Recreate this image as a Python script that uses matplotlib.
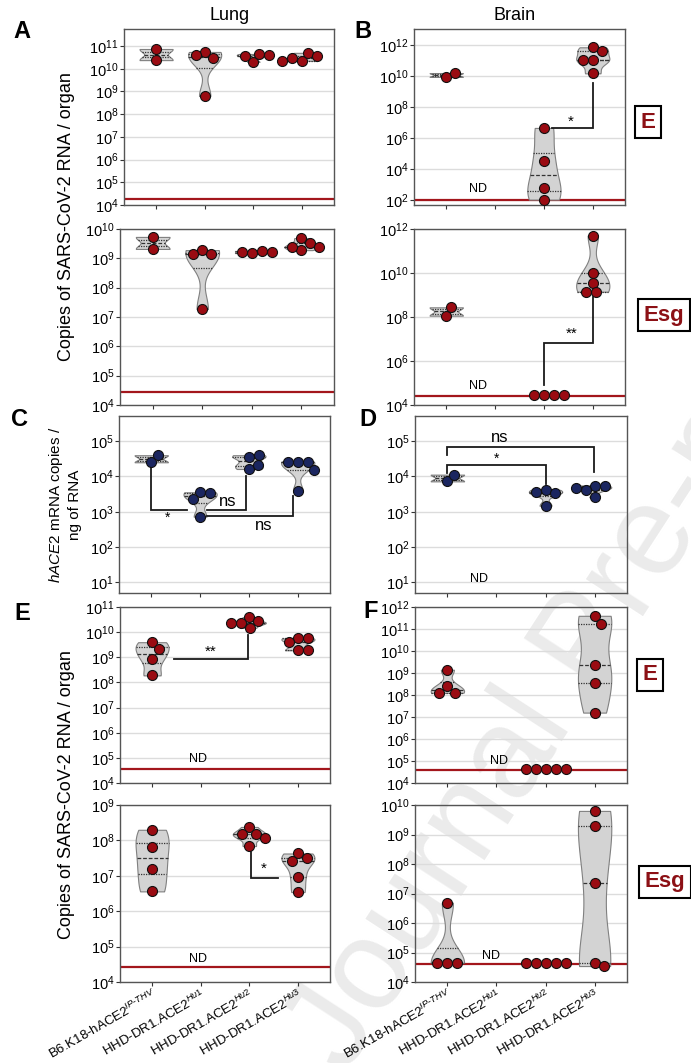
import numpy as np
import matplotlib
matplotlib.use('Agg')
import matplotlib.pyplot as plt

# ── Style ─────────────────────────────────────────────────────────────────────
plt.rcParams['font.family'] = ['Liberation Sans', 'DejaVu Sans']
plt.rcParams['mathtext.fontset'] = 'custom'
plt.rcParams['mathtext.rm'] = 'Liberation Sans'
plt.rcParams['mathtext.it'] = 'Liberation Sans:italic'
plt.rcParams['mathtext.bf'] = 'Liberation Sans:bold'

W, H = 691, 1063
RED = '#9a0b12'
NAVY = '#1b2660'
LOD_COL = '#a3161c'
LABEL_RED = '#8c1015'

# ── Data (log10 copies) ───────────────────────────────────────────────────────
strains = [r'B6.K18-hACE2$^{\mathit{IP\text{-}THV}}$',
           r'HHD-DR1.ACE2$^{\mathit{Hu1}}$',
           r'HHD-DR1.ACE2$^{\mathit{Hu2}}$',
           r'HHD-DR1.ACE2$^{\mathit{Hu3}}$']

# A: lung, E gene / Esg
lung_e   = [[10.87, 10.38], [10.74, 10.47, 10.60, 8.80],
            [10.30, 10.65, 10.56, 10.60], [10.35, 10.70, 10.47, 10.56, 10.35]]
lung_esg = [[9.73, 9.32], [9.28, 9.15, 9.15, 7.27],
            [9.18, 9.25, 9.20, 9.23], [9.69, 9.52, 9.28, 9.39, 9.39]]
# B: brain, E gene / Esg
brain_e   = [[9.94, 10.19], [], [6.65, 4.52, 2.77, 2.03],
             [11.85, 11.61, 11.01, 11.01, 10.17]]
brain_esg = [[8.06, 8.44], [], [4.45, 4.45, 4.45, 4.45],
             [11.70, 10.01, 9.56, 9.15, 9.15]]
# C / D: hACE2 mRNA copies per ng RNA
hace2_lung  = [[4.40, 4.60], [3.55, 3.53, 3.36, 2.86],
               [4.55, 4.60, 4.21, 4.33], [4.42, 4.41, 4.40, 4.19, 3.60]]
hace2_brain = [[3.86, 4.05], [], [3.62, 3.53, 3.55, 3.17],
               [3.72, 3.74, 3.62, 3.67, 3.41]]
# E: lung, second experiment
lung_e2   = [[9.60, 9.34, 8.95, 8.28], [], [10.60, 10.43, 10.35, 10.35, 10.17],
             [9.75, 9.75, 9.61, 9.28, 9.28]]
lung_esg2 = [[8.30, 7.80, 7.20, 6.56], [], [8.38, 8.19, 8.19, 8.07, 7.84],
             [7.63, 7.50, 7.42, 6.98, 6.54]]
# F: brain, second experiment
brain_e2   = [[9.15, 8.39, 8.10, 8.10], [], [4.63, 4.63, 4.63, 4.63, 4.63],
              [11.60, 11.24, 9.35, 8.55, 7.20]]
brain_esg2 = [[6.69, 4.65, 4.65, 4.65], [], [4.65, 4.65, 4.65, 4.65, 4.65],
              [9.80, 9.30, 7.37, 4.65, 4.54]]

# limit of detection (log10)
lod = {'A1': 4.26, 'A2': 4.44, 'B1': 2.03, 'B2': 4.42,
       'E1': 4.56, 'E2': 4.41, 'F1': 4.60, 'F2': 4.60}

XLIM = (0.34, 4.66)


def make_ax(l, t, r, b):
    return fig.add_axes([l / W, 1 - b / H, (r - l) / W, (b - t) / H])


def swarm(vals, sx, sy, d=9.5):
    placed, xs = [], []
    for v in vals:
        y = v * sy
        off = 0.0
        for k in range(0, 200):
            for cand in ([0.0] if k == 0 else [k * 1.0, -k * 1.0]):
                if all((cand - px) ** 2 + (y - py) ** 2 >= d ** 2 for px, py in placed):
                    off = cand
                    break
            else:
                continue
            break
        placed.append((off, y))
        xs.append(off / sx)
    return xs


def panel(rect, data, ylim, yticks, color, lod_val=None, xlabels=False):
    ax = make_ax(*rect)
    ax.set_facecolor('none')
    ax.set_xlim(*XLIM)
    ax.set_ylim(*ylim)
    ax.set_yticks(yticks)
    ax.set_yticklabels([f'$10^{{{t}}}$' for t in yticks], fontsize=10.5)
    ax.set_xticks([1, 2, 3, 4])
    if xlabels:
        ax.set_xticklabels(strains, rotation=30, ha='right', rotation_mode='anchor',
                           fontsize=9.5)
    else:
        ax.set_xticklabels([])
    ax.tick_params(direction='out', length=3, width=0.8, color='#333333', pad=1)
    for s in ax.spines.values():
        s.set_linewidth(1.0)
        s.set_color('#555555')
    for t in yticks:
        ax.axhline(t, color='#dcdcdc', lw=1.0, zorder=0)
    if lod_val is not None:
        ax.axhline(lod_val, color=LOD_COL, lw=1.6, zorder=1.5)

    wpx = (rect[2] - rect[0]) / (XLIM[1] - XLIM[0])
    hpx = (rect[3] - rect[1]) / (ylim[1] - ylim[0])

    # violins
    vdata, vpos = [], []
    for i, g in enumerate(data):
        if len(g) > 1 and np.ptp(g) > 0:
            vdata.append(np.array(g))
            vpos.append(i + 1)
    if vdata:
        vp = ax.violinplot(vdata, positions=vpos, widths=0.68, showextrema=False,
                           bw_method=0.5)
        for body, g, p in zip(vp['bodies'], vdata, vpos):
            body.set_facecolor('#d3d3d3')
            body.set_edgecolor('#808080')
            body.set_linewidth(0.8)
            body.set_alpha(1)
            body.set_zorder(2)
            v = body.get_paths()[0].vertices
            right = v[v[:, 0] >= p]
            order = np.argsort(right[:, 1])
            ry, rx = right[order, 1], right[order, 0]
            q1, med, q3 = np.percentile(g, [25, 50, 75])
            for yv, ls in ((med, (0, (3, 1.5))), (q1, (0, (1, 1))), (q3, (0, (1, 1)))):
                hw = np.interp(yv, ry, rx) - p
                ax.plot([p - hw, p + hw], [yv, yv], color='#333333', lw=0.9,
                        ls=ls, zorder=3)

    # points
    for i, g in enumerate(data):
        if not g:
            continue
        offs = swarm(g, wpx, hpx)
        ax.plot(np.array(offs) + i + 1, g, 'o', ms=7.2, mfc=color, mec='#111111',
                mew=0.8, zorder=4, clip_on=False)
    return ax


def bracket(ax, xs, ys):
    ax.plot(xs, ys, color='#1a1a1a', lw=1.3, zorder=3.5, solid_joinstyle='miter')


fig = plt.figure(figsize=(W / 100, H / 100), dpi=100)

# watermark
fig.text(345 / W, 1 - 1075 / H, 'Journal Pre-proof', rotation=57, fontsize=92,
         color='#ebebeb', ha='left', va='baseline', zorder=-1,
         rotation_mode='anchor')

# ── Row A / B ────────────────────────────────────────────────────────────────
axA1 = panel((124, 29, 334, 205), lung_e, (4, 11.75), list(range(4, 12)), RED, lod['A1'])
axA2 = panel((120, 229, 334, 405), lung_esg, (4, 10), list(range(4, 11)), RED, lod['A2'])

axB1 = panel((414, 29, 625, 205), brain_e, (1.68, 13.03), list(range(2, 13, 2)), RED, lod['B1'])
bracket(axB1, [3.16, 4.01, 4.01], [6.65, 6.65, 9.57])
axB1.text(3.54, 7.05, '*', ha='center', va='center', fontsize=11)
axB1.text(1.65, 2.7, 'ND', ha='center', va='center', fontsize=9)

axB2 = panel((414, 229, 625, 405), brain_esg, (4, 12), list(range(4, 13, 2)), RED, lod['B2'])
bracket(axB2, [3, 3, 4, 4], [4.91, 6.83, 6.83, 8.92])
axB2.text(3.56, 7.25, '**', ha='center', va='center', fontsize=11)
axB2.text(1.65, 4.85, 'ND', ha='center', va='center', fontsize=9)

# ── Row C / D ────────────────────────────────────────────────────────────────
axC = panel((119, 416, 330, 593), hace2_lung, (0.7, 5.71), list(range(1, 6)), NAVY)
bracket(axC, [1, 1, 1.73], [4.33, 3.06, 3.06])
axC.text(1.33, 2.82, '*', ha='center', va='center', fontsize=10)
bracket(axC, [2.15, 2.94, 2.94], [3.06, 3.06, 4.0])
axC.text(2.57, 3.3, 'ns', ha='center', va='center', fontsize=12)
bracket(axC, [2.15, 3.9, 3.9], [2.87, 2.87, 3.45])
axC.text(3.3, 2.62, 'ns', ha='center', va='center', fontsize=12)

axD = panel((415, 416, 627, 593), hace2_brain, (0.7, 5.71), list(range(1, 6)), NAVY)
bracket(axD, [1, 1, 3.98, 3.98], [4.6, 4.82, 4.82, 4.12])
axD.text(2.07, 5.1, 'ns', ha='center', va='center', fontsize=12)
bracket(axD, [1, 1, 3, 3], [4.1, 4.32, 4.32, 3.78])
axD.text(2.0, 4.5, '*', ha='center', va='center', fontsize=10)
axD.text(1.65, 1.1, 'ND', ha='center', va='center', fontsize=9)

# ── Row E / F ────────────────────────────────────────────────────────────────
axE1 = panel((120, 607, 330, 783), lung_e2, (4, 11), list(range(4, 12)), RED, lod['E1'])
bracket(axE1, [1.45, 2.98, 2.98], [8.95, 8.95, 9.87])
axE1.text(2.2, 9.2, '**', ha='center', va='center', fontsize=11)
axE1.text(1.95, 4.95, 'ND', ha='center', va='center', fontsize=9)

axE2 = panel((120, 805, 330, 982), lung_esg2, (4, 9), list(range(4, 10)), RED, lod['E2'],
             xlabels=True)
bracket(axE2, [3.04, 3.04, 3.6], [7.68, 6.94, 6.94])
axE2.text(3.3, 7.2, '*', ha='center', va='center', fontsize=11)
axE2.text(1.95, 4.65, 'ND', ha='center', va='center', fontsize=9)

axF1 = panel((415, 607, 627, 783), brain_e2, (4, 12), list(range(4, 13)), RED, lod['F1'])
axF1.text(2.05, 5.0, 'ND', ha='center', va='center', fontsize=9)

axF2 = panel((415, 805, 627, 982), brain_esg2, (4, 10), list(range(4, 11)), RED, lod['F2'],
             xlabels=True)
axF2.text(1.88, 4.87, 'ND', ha='center', va='center', fontsize=9)

# ── Figure text ──────────────────────────────────────────────────────────────
def ftext(x, y, s, **kw):
    fig.text(x / W, 1 - y / H, s, **kw)

ftext(230, 15, 'Lung', ha='center', va='center', fontsize=13)
ftext(515, 15, 'Brain', ha='center', va='center', fontsize=13)
for lab, x, y in (('A', 22, 32), ('B', 363, 32), ('C', 20, 420),
                  ('D', 368, 420), ('E', 22, 614), ('F', 371, 612)):
    ftext(x, y, lab, ha='center', va='center', fontsize=17, fontweight='bold')

ftext(67, 217, 'Copies of SARS-CoV-2 RNA / organ', rotation=90,
      ha='center', va='center', fontsize=13)
ftext(67, 795, 'Copies of SARS-CoV-2 RNA / organ', rotation=90,
      ha='center', va='center', fontsize=13)
ftext(56, 505, r'$\mathit{hACE2}$ mRNA copies /', rotation=90,
      ha='center', va='center', fontsize=11)
ftext(75, 505, 'ng of RNA', rotation=90, ha='center', va='center', fontsize=11)

box = dict(boxstyle='square,pad=0.25', fc='white', ec='black', lw=1.5)
for s, x, y in (('E', 648, 122), ('Esg', 664, 315), ('E', 650, 675), ('Esg', 665, 882)):
    ftext(x, y, s, ha='center', va='center', fontsize=16, fontweight='bold',
          color=LABEL_RED, bbox=box)

fig.savefig('out.png', dpi=100)
